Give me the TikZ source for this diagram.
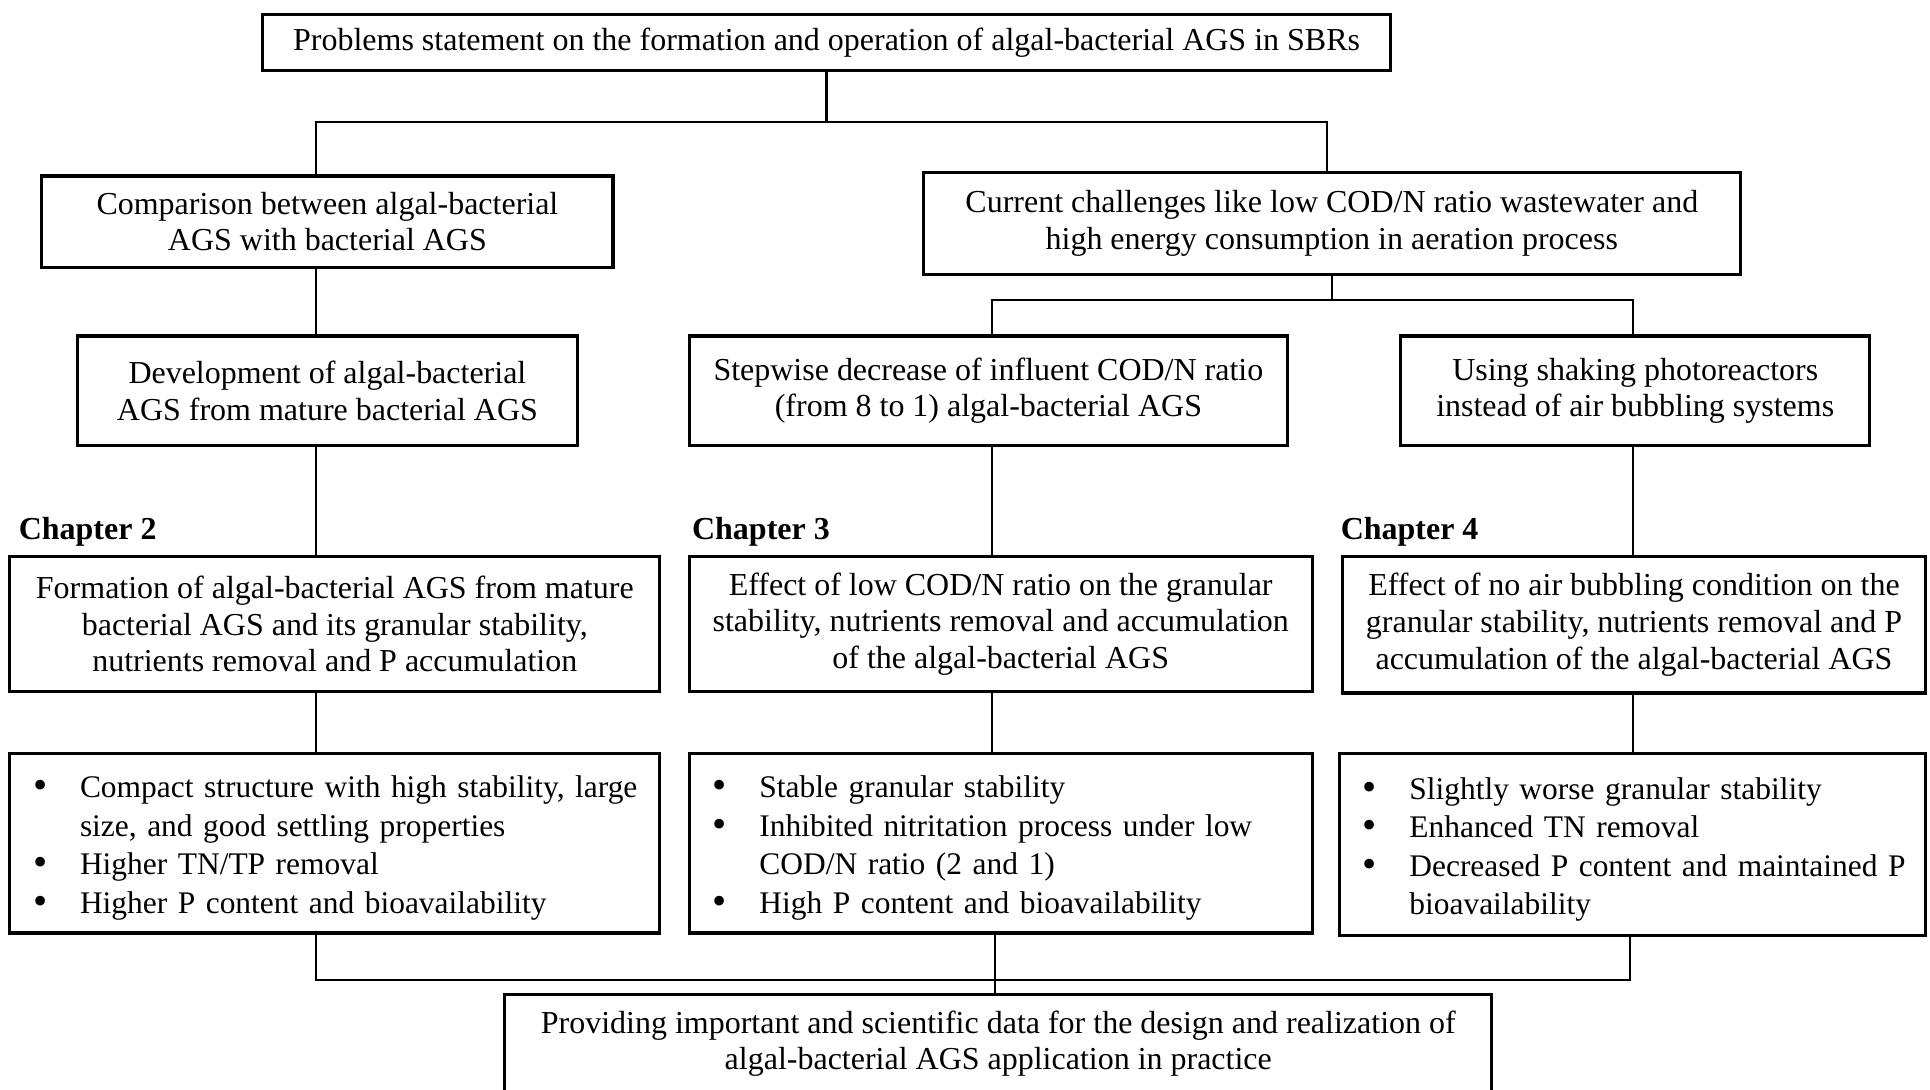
\documentclass[tikz,border=0pt]{standalone}
\usepackage{fontspec}
\setmainfont{Liberation Serif}
\usetikzlibrary{positioning}
\newlength\pxu
\setlength\pxu{0.12309mm}
\newcommand\itm{\makebox[57\pxu][l]{\hspace{19\pxu}\smash{\raisebox{-0.3pt}{\fontsize{11.5}{10}\selectfont\textbullet}}}}
\newcommand\ind{\hspace*{57\pxu}}

\begin{document}
\begin{tikzpicture}[x=\pxu, y=-\pxu, font=\fontsize{9.1}{10.4}\selectfont,
  box/.style 2 args={draw, line width=0.9pt, align=center, inner sep=0pt,
    minimum width=#1\pxu, minimum height=#2\pxu},
  list/.style={draw, line width=0.9pt, align=left, text width=#1\pxu,
    inner sep=0pt, minimum height=146\pxu, font=\fontsize{8.95}{10.95}\selectfont,
    execute at begin node={\rule{0pt}{9pt}}},
  chap/.style={font=\fontsize{9.1}{10.4}\selectfont\bfseries, inner sep=0pt},
  link/.style={line width=0.6pt}]
    \useasboundingbox (0,0) rectangle (1568,885);
    \node [box={917}{45}] (prob) at (671.5,34.5) {Problems statement on the formation and operation of algal-bacterial AGS in SBRs};
    \node [box={464}{74}] (comp) at (266,180) {Comparison between algal-bacterial\\AGS with bacterial AGS};
    \node [box={664}{83}] (chal) at (1082,181.5) {Current challenges like low COD/N ratio wastewater and\\high energy consumption in aeration process};
    \node [box={406}{89}] (devel) at (266,317.5) {Development of algal-bacterial\\AGS from mature bacterial AGS};
    \node [box={486}{89}] (codn) at (803,317.5) {Stepwise decrease of influent COD/N ratio\\(from 8 to 1) algal-bacterial AGS};
    \node [box={381}{89}] (shake) at (1328.5,317.5) {Using shaking photoreactors\\instead of air bubbling systems};
    \node [box={528}{110}] (ch2) at (272,507) {Formation of algal-bacterial AGS from mature\\bacterial AGS and its granular stability,\\nutrients removal and P accumulation};
    \node [box={506}{110}] (ch3) at (813,507) {Effect of low COD/N ratio on the granular\\stability, nutrients removal and accumulation\\of the algal-bacterial AGS};
    \node [box={473}{111}] (ch4) at (1327.5,507.5) {Effect of no air bubbling condition on the\\granular stability, nutrients removal and P\\accumulation of the algal-bacterial AGS};
    \foreach \c/\dx in {2/8,3/3,4/-1}
        \node [chap, above right=6\pxu and \dx\pxu of ch\c.north west] (lab\c) {Chapter \c};
    \node [list=528] (res2) at (272,685) {\itm Compact structure with high stability, large\\\ind size, and good settling properties\\
        \itm Higher TN/TP removal\\\itm Higher P content and bioavailability};
    \node [list=506] (res3) at (813,685) {\itm Stable granular stability\\
        \itm Inhibited nitritation process under low\\\ind COD/N ratio (2 and 1)\\\itm High P content and bioavailability};
    \node [list=476, minimum height=148\pxu] (res4) at (1326,686) {\itm Slightly worse granular stability\\
        \itm Enhanced TN removal\\\itm Decreased P content and maintained P\\\ind bioavailability};
    \node [box={802}{80}] (final) at (811,848) {Providing important and scientific data for the design and realization of\\algal-bacterial AGS application in practice};
    % junctions
    \coordinate (hA) at (257,99);
    \coordinate (hB) at (1078,99);
    \coordinate (hC) at (806,244);
    \coordinate (hD) at (1327,244);
    \coordinate (hE) at (257,796);
    \coordinate (hF) at (1324,796);
    \coordinate (hG) at (808,796);
    \draw [link] (prob) -- (prob |- hA);
    \draw [link] (comp.north -| hA) |- (hB) -- (chal.north -| hB);
    \draw [link] (comp.south -| hA) -- (devel.north -| hA);
    \draw [link] (devel.south -| hA) -- (ch2.north -| hA);
    \draw [link] (ch2.south -| hA) -- (res2.north -| hA);
    \draw [link] (chal) -- (chal |- hC);
    \draw [link] (codn.north -| hC) |- (hD) -- (shake.north -| hD);
    \draw [link] (codn.south -| hC) -- (ch3.north -| hC);
    \draw [link] (ch3.south -| hC) -- (res3.north -| hC);
    \draw [link] (shake.south -| hD) -- (ch4.north -| hD);
    \draw [link] (ch4.south -| hD) -- (res4.north -| hD);
    \draw [link] (res2.south -| hE) |- (hF) -- (res4.south -| hF);
    \draw [link] (res3.south -| hG) -- (final.north -| hG);
\end{tikzpicture}
\end{document}
